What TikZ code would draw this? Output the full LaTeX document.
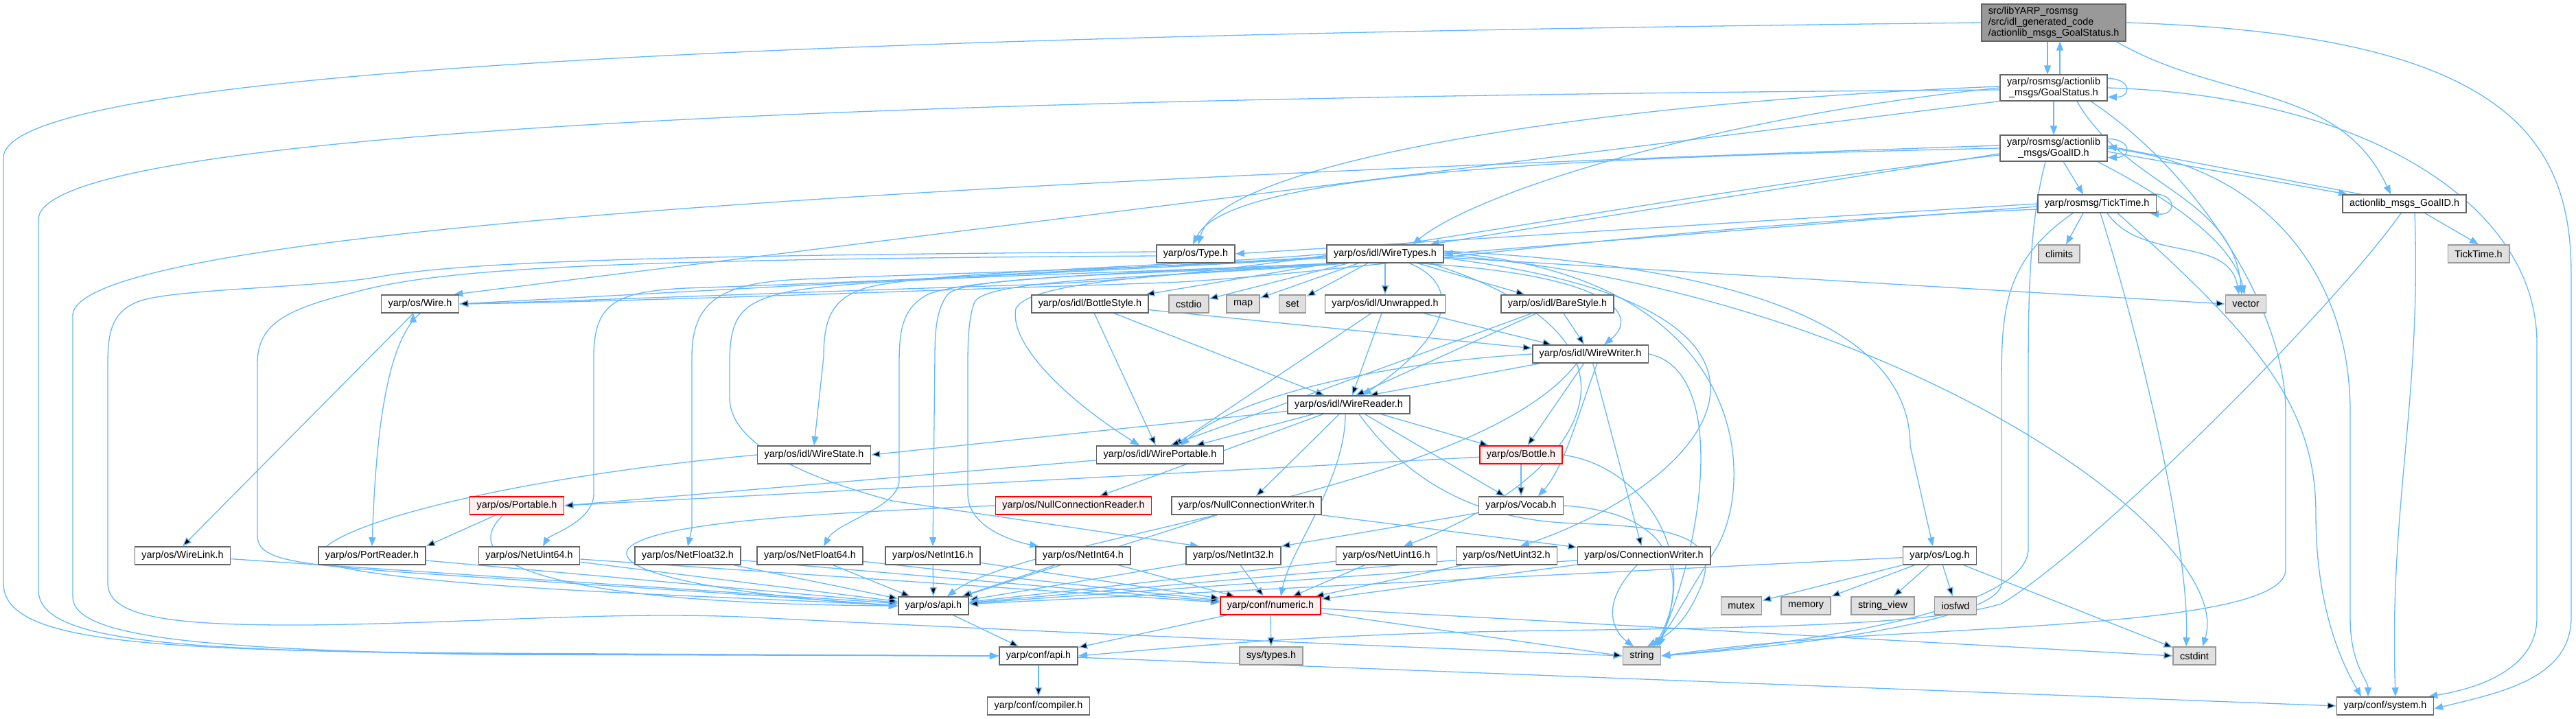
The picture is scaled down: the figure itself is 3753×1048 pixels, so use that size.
\documentclass[tikz,border=0pt]{standalone}
\usepackage{fontspec}
\setmainfont{Liberation Sans}
\usetikzlibrary{arrows.meta}

\definecolor{depblue}{HTML}{63B8FF}
\definecolor{hdrgray}{HTML}{666666}
\definecolor{sysgray}{HTML}{999999}
\definecolor{sysfill}{HTML}{E0E0E0}
\definecolor{rootfill}{HTML}{999999}
\definecolor{cutred}{HTML}{FF0000}
\definecolor{cutfill}{HTML}{FFF0F0}

\pgfdeclarelayer{wires}
\pgfsetlayers{wires,main}

\begin{document}
\begin{tikzpicture}[
    x=1pt, y=-1pt,
    font=\fontsize{14.4}{16}\selectfont,
    hdr/.style={draw=hdrgray, fill=white, line width=1.6pt,
                minimum height=26pt, inner xsep=10pt, inner ysep=4pt,
                align=center},
    syshdr/.style={hdr, draw=sysgray, fill=sysfill},
    cuthdr/.style={hdr, draw=cutred, fill=cutfill},
    roothdr/.style={hdr, fill=rootfill, align=left},
    dep/.style={draw=depblue, line width=1.3pt,
                -{Triangle[length=13pt,width=10pt]}},
]
\useasboundingbox (0,0) rectangle (3753,1048);

% headers
\node [roothdr] (root) at (2992,33)
      {src/libYARP\_rosmsg\\/src/idl\_generated\_code\\/actionlib\_msgs\_GoalStatus.h};
\node [hdr] (gs)  at (2992,128) {yarp/rosmsg/actionlib\\\_msgs/GoalStatus.h};
\node [hdr] (gid) at (2992,216) {yarp/rosmsg/actionlib\\\_msgs/GoalID.h};
\node [hdr] (tick) at (3055,297) {yarp/rosmsg/TickTime.h};
\node [hdr] (agid) at (3503,297) {actionlib\_msgs\_GoalID.h};
\node [syshdr] (climits) at (3000,370) {climits};
\node [syshdr] (ticksys) at (3611,370) {TickTime.h};
\node [syshdr] (vector) at (3272,443) {vector};

\node [hdr] (type)   at (1742,370) {yarp/os/Type.h};
\node [hdr] (wtypes) at (2018,370) {yarp/os/idl/WireTypes.h};
\node [hdr] (bstyle) at (1588,443) {yarp/os/idl/BottleStyle.h};
\node [syshdr] (cstdio) at (1732,443) {cstdio};
\node [syshdr] (map)    at (1811,443) {map};
\node [syshdr] (set)    at (1883,443) {set};
\node [hdr] (unwr)    at (2018,443) {yarp/os/idl/Unwrapped.h};
\node [hdr] (bare)    at (2269,443) {yarp/os/idl/BareStyle.h};
\node [hdr] (wwriter) at (2317,516) {yarp/os/idl/WireWriter.h};
\node [hdr] (wire)    at (612,443)  {yarp/os/Wire.h};
\node [hdr] (wreader) at (1965,590) {yarp/os/idl/WireReader.h};
\node [hdr] (wstate)  at (1186,663) {yarp/os/idl/WireState.h};
\node [hdr] (wport)   at (1690,663) {yarp/os/idl/WirePortable.h};
\node [cuthdr] (bottle)   at (2216,663) {yarp/os/Bottle.h};
\node [cuthdr] (portable) at (753,737)  {yarp/os/Portable.h};
\node [cuthdr] (nullr)    at (1564,737) {yarp/os/NullConnectionReader.h};
\node [hdr] (nullw) at (1816,737) {yarp/os/NullConnectionWriter.h};
\node [hdr] (vocab) at (2216,737) {yarp/os/Vocab.h};

\node [hdr] (wirelink)   at (266,810)  {yarp/os/WireLink.h};
\node [hdr] (portreader) at (542,810)  {yarp/os/PortReader.h};
\node [hdr] (nuint64)    at (771,810)  {yarp/os/NetUint64.h};
\node [hdr] (nfloat32)   at (1002,810) {yarp/os/NetFloat32.h};
\node [hdr] (nfloat64)   at (1180,810) {yarp/os/NetFloat64.h};
\node [hdr] (nint16)     at (1359,810) {yarp/os/NetInt16.h};
\node [hdr] (nint64)     at (1578,810) {yarp/os/NetInt64.h};
\node [hdr] (nint32)     at (1797,810) {yarp/os/NetInt32.h};
\node [hdr] (nuint16)    at (2020,810) {yarp/os/NetUint16.h};
\node [hdr] (nuint32)    at (2195,810) {yarp/os/NetUint32.h};
\node [hdr] (cwriter)    at (2395,810) {yarp/os/ConnectionWriter.h};
\node [hdr] (log)        at (2826,810) {yarp/os/Log.h};

\node [hdr] (osapi)      at (1360,883) {yarp/os/api.h};
\node [cuthdr] (numeric) at (1851,883) {yarp/conf/numeric.h};
\node [syshdr] (mutex)   at (2537,883) {mutex};
\node [syshdr] (memory)  at (2631,883) {memory};
\node [syshdr] (strview) at (2743,883) {string\_view};
\node [syshdr] (iosfwd)  at (2849,883) {iosfwd};
\node [hdr] (confapi)    at (1513,956) {yarp/conf/api.h};
\node [syshdr] (systypes) at (1852,956) {sys/types.h};
\node [syshdr] (string)  at (2392,956) {string};
\node [syshdr] (cstdint) at (3197,956) {cstdint};
\node [hdr] (compiler)   at (1513,1029) {yarp/conf/compiler.h};
\node [hdr] (system)     at (3475,1029) {yarp/conf/system.h};

\begin{pgfonlayer}{wires}
% generated file and the rosmsg headers
\draw [dep] ([xshift=-9pt]root.south) -- ([xshift=-9pt]gs.north);
\draw [dep] ([xshift=9pt]gs.north) -- ([xshift=9pt]root.south);
\draw [dep] ([xshift=-15pt]root.south east) to [out=-30,in=115] ([xshift=-20pt]agid.north);
\draw [dep] (root.east) .. controls (3650,50) and (3746,200) .. (3746,400)
      -- (3746,900) .. controls (3746,990) and (3640,1010) .. ([yshift=-4pt]system.east);
\draw [dep] (root.west) .. controls (1400,50) and (5,90) .. (5,230)
      -- (5,850) .. controls (5,935) and (200,948) .. (700,952) -- (confapi.west);

\draw [dep] ([yshift=-6pt]gs.north east) .. controls +(35,0) and +(35,0) .. ([yshift=6pt]gs.south east);
\draw [dep] (gs.south) -- (gid.north);
\draw [dep] ([yshift=2pt]gs.west) .. controls (2300,150) and (1775,240) .. ([xshift=4pt]type.north);
\draw [dep] (gs.west) .. controls (2500,170) and (2150,280) .. ([xshift=40pt]wtypes.north);
\draw [dep] (gs.south west) -- ([xshift=-8pt]wire.north east);
\draw [dep] ([yshift=-3pt]gs.west) .. controls (1500,140) and (56,180) .. (56,320)
      -- (56,860) .. controls (56,935) and (250,948) .. (700,953) -- (confapi.west);
\draw [dep] ([xshift=-45pt]gs.south east) to [out=-60,in=95] ([xshift=-6pt]vector.north);
\draw [dep] ([xshift=-25pt]gs.south east) .. controls (3200,250) and (3330,450) .. (3330,600)
      -- (3330,830) .. controls (3330,900) and (3000,910) .. (2700,928) .. controls (2550,938) and (2480,948) .. (string.east);
\draw [dep] (gs.east) .. controls (3450,140) and (3696,300) .. (3696,500)
      -- (3696,900) .. controls (3696,980) and (3600,1005) .. ([xshift=-8pt]system.north east);

\draw [dep] ([yshift=-6pt]gid.north east) .. controls +(35,0) and +(35,0) .. ([yshift=6pt]gid.south east);
\draw [dep] ([xshift=14pt]gid.south) -- ([xshift=-20pt]tick.north);
\draw [dep] ([yshift=-5pt]gid.east) -- ([xshift=8pt]agid.north west);
\draw [dep] ([xshift=28pt]agid.north west) -- ([yshift=3pt]gid.east);
\draw [dep] (gid.west) .. controls (2300,230) and (1790,250) .. ([xshift=-4pt]type.north);
\draw [dep] ([yshift=-8pt]gid.west) -- ([xshift=-20pt]wtypes.north east);
\draw [dep] ([yshift=-10pt]gid.west) .. controls (2300,300) and (1900,400) .. (1500,415) .. controls (1100,428) and (800,440) .. (wire.east);
\draw [dep] ([yshift=4pt]gid.west) .. controls (1500,260) and (106,330) .. (106,460)
      -- (106,870) .. controls (106,930) and (300,946) .. (700,954) -- (confapi.west);
\draw [dep] ([xshift=-15pt]gid.south east) .. controls (3180,300) and (3255,360) .. ([xshift=-2pt]vector.north);
\draw [dep] ([xshift=-12pt]gid.south) .. controls (2955,330) and (2955,450) .. (2955,560)
      -- (2955,800) .. controls (2955,880) and (2700,930) .. (string.east);
\draw [dep] (gid.east) .. controls (3300,240) and (3424,400) .. (3424,600)
      -- (3424,900) .. controls (3424,970) and (3450,990) .. ([xshift=-25pt]system.north);

\draw [dep] ([xshift=-5pt]agid.south) .. controls (3400,450) and (3050,800) .. (2916,880)
      .. controls (2800,915) and (2500,915) .. (2200,920) .. controls (1900,925) and (1700,945) .. (confapi.east);
\draw [dep] ([xshift=30pt]agid.south) -- (ticksys.north);
\draw [dep] ([xshift=15pt]agid.south) to [out=-88,in=92] ([xshift=15pt]system.north);

\draw [dep] ([xshift=-10pt]tick.north east) .. controls +(40,-4) and +(40,4) .. ([xshift=-10pt]tick.south east);
\draw [dep] ([xshift=-20pt]tick.south) -- ([xshift=10pt]climits.north);
\draw [dep] (tick.west) -- (type.east);
\draw [dep] ([yshift=-4pt]tick.west) -- (wtypes.east);
\draw [dep] ([yshift=-8pt]tick.west) .. controls (2400,330) and (1950,400) .. (1700,412) .. controls (1300,425) and (900,440) .. (wire.east);
\draw [dep] ([xshift=15pt]tick.south) to [out=-55,in=100] ([xshift=-10pt]vector.north);
\draw [dep] ([xshift=5pt]tick.south) .. controls (3120,500) and (3190,800) .. ([xshift=-12pt]cstdint.north);
\draw [dep] ([xshift=-35pt]tick.south) .. controls (2920,380) and (2916,450) .. (2916,560)
      -- (2916,850) .. controls (2916,895) and (2700,935) .. (string.east);
\draw [dep] ([xshift=30pt]tick.south) .. controls (3300,500) and (3374,600) .. (3374,750)
      .. controls (3374,900) and (3420,980) .. ([xshift=-35pt]system.north);

% yarp/os/Type.h
\draw [dep] ([yshift=-3pt]type.west) .. controls (900,378) and (650,390) .. (520,425)
      .. controls (420,450) and (375,470) .. (375,530) -- (375,780)
      .. controls (375,815) and (420,822) .. (600,835) .. controls (900,855) and (1150,870) .. (osapi.west);
\draw [dep] ([yshift=3pt]type.west) .. controls (1000,372) and (700,380) .. (560,402)
      .. controls (470,420) and (250,420) .. (200,440) .. controls (165,455) and (157,480) .. (157,530)
      -- (157,850) .. controls (157,900) and (250,912) .. (450,911) .. controls (700,908) and (900,890) .. (1100,900)
      .. controls (1600,925) and (2100,945) .. (string.west);

% yarp/os/idl/WireTypes.h
\path [dep] (wtypes) edge (bstyle) edge (cstdio) edge (map) edge (set)
                     edge (unwr) edge (bare) edge (wire.east) edge (vector.west);
\draw [dep] ([xshift=-40pt]wtypes.south east) .. controls (2350,400) and (2390,460) .. ([xshift=20pt]wwriter.north);
\draw [dep] ([xshift=-50pt]wtypes.south east) .. controls (2140,420) and (2100,500) .. ([xshift=20pt]wreader.north);
\draw [dep] ([xshift=20pt]wtypes.south west) .. controls (1700,400) and (1500,410) .. (1480,450)
      .. controls (1470,500) and (1550,580) .. ([xshift=-30pt]wport.north);
\draw [dep] (wtypes.west) .. controls (1700,390) and (1350,395) .. (1260,420)
      .. controls (1215,435) and (1200,460) .. (1200,520) -- (wstate.north);
\draw [dep] ([yshift=-4pt]wtypes.west) .. controls (1700,392) and (1300,400) .. (1150,408)
      .. controls (1050,415) and (1008,440) .. (1008,520) -- (1008,770) -- (nfloat32.north);
\draw [dep] ([yshift=-6pt]wtypes.west) .. controls (1700,390) and (1300,410) .. (1000,420)
      .. controls (900,425) and (865,440) .. (865,520) -- (865,720) .. controls (865,760) and (800,780) .. ([xshift=20pt]nuint64.north);
\draw [dep] ([xshift=10pt]wtypes.south west) .. controls (1600,400) and (1250,405) .. (1150,425)
      .. controls (1080,440) and (1063,460) .. (1063,530) -- (1063,580)
      .. controls (1063,640) and (1150,690) .. (1300,730) -- ([xshift=-50pt]nint32.north);
\draw [dep] ([xshift=15pt]wtypes.south west) .. controls (1700,395) and (1400,405) .. (1350,430)
      .. controls (1315,450) and (1310,480) .. (1310,530) -- (1310,700)
      .. controls (1310,740) and (1220,760) .. ([xshift=20pt]nfloat64.north);
\draw [dep] ([xshift=25pt]wtypes.south west) .. controls (1700,400) and (1400,400) .. (1380,430)
      .. controls (1365,450) and (1362,480) .. (1362,520) -- (nint16.north);
\draw [dep] ([xshift=30pt]wtypes.south west) .. controls (1700,405) and (1440,405) .. (1420,440)
      .. controls (1412,460) and (1410,490) .. (1410,530) -- (1410,720)
      .. controls (1410,770) and (1480,790) .. ([xshift=5pt]nint64.north west);
\draw [dep] ([xshift=-20pt]wtypes.south east) .. controls (2450,500) and (2300,700) .. ([xshift=25pt]nuint16.north);
\draw [dep] ([yshift=-6pt]wtypes.east) .. controls (2700,450) and (2500,700) .. ([xshift=20pt]nuint32.north);
\draw [dep] ([yshift=4pt]wtypes.east) .. controls (2600,390) and (2783,500) .. (2783,650) -- ([xshift=-10pt]log.north);
\draw [dep] ([yshift=2pt]wtypes.east) .. controls (2550,400) and (2560,700) .. (2500,800)
      .. controls (2450,880) and (2430,920) .. ([xshift=15pt]string.north);
\draw [dep] ([yshift=-2pt]wtypes.east) .. controls (2750,420) and (3260,780) .. ([xshift=12pt]cstdint.north);

% idl styles
\path [dep] (bstyle) edge (wwriter) edge (wreader) edge (wport);
\path [dep] (unwr) edge (wwriter) edge (wreader) edge (wport);
\path [dep] (bare) edge (wwriter) edge ([xshift=10pt]wreader.north) edge ([xshift=15pt]wport.north);

% yarp/os/idl/WireWriter.h
\path [dep] (wwriter) edge ([xshift=30pt]wreader.north) edge (bottle) edge (cwriter);
\draw [dep] (wwriter.west) .. controls (2000,530) and (1800,580) .. ([xshift=30pt]wport.north);
\draw [dep] ([xshift=10pt]wwriter.south) .. controls (2300,600) and (2280,680) .. ([xshift=25pt]vocab.north);
\draw [dep] (wwriter.east) .. controls (2520,540) and (2480,800) .. ([xshift=22pt]string.north);
\draw [dep] ([xshift=-20pt]wwriter.south) .. controls (2150,720) and (1500,780) .. ([xshift=20pt]osapi.north);

% yarp/os/idl/WireReader.h
\path [dep] (wreader) edge (wstate.east) edge (wport) edge (nullr) edge (nullw)
                      edge (bottle) edge (vocab);
\draw [dep] ([xshift=-5pt]wreader.south) .. controls (1960,700) and (1880,800) .. ([xshift=15pt]numeric.north);
\draw [dep] ([xshift=15pt]wreader.south) .. controls (2050,700) and (2150,760) .. (2300,763)
      .. controls (2460,768) and (2500,790) .. (2480,850) .. controls (2460,900) and (2440,920) .. ([xshift=8pt]string.north);

% remaining yarp/os headers
\draw [dep] (wstate.west) .. controls (700,700) and (430,780) .. (470,820)
      .. controls (600,860) and (1100,870) .. (osapi.west);
\path [dep] (wport) edge (portable.east);
\path [dep] (bottle) edge (portable.east) edge (vocab);
\draw [dep] (bottle.east) .. controls (2400,680) and (2480,820) .. ([xshift=18pt]string.north);
\path [dep] (portable) edge (portreader.north east);
\draw [dep] ([xshift=-20pt]portable.south) .. controls (660,820) and (800,880) .. (osapi.west);
\path [dep] ([xshift=-10pt]wire.south) edge (wirelink.north);
\draw [dep] (wire.south) .. controls (560,500) and (547,650) .. (portreader.north);
\draw [dep] (nullr.west) .. controls (1200,748) and (950,760) .. (915,800)
      .. controls (890,840) and (1100,870) .. (osapi.west);
\path [dep] (nullw) edge (osapi) edge (cwriter);
\path [dep] (vocab) edge (nint32.north east);
\draw [dep] (vocab.east) .. controls (2480,750) and (2440,880) .. ([xshift=25pt]string.north);
\path [dep] (wirelink) edge (osapi) (portreader) edge (osapi);
\path [dep] (nuint64) edge (osapi) edge (numeric);
\path [dep] (nfloat32) edge (osapi) edge (numeric);
\path [dep] (nfloat64) edge (osapi) edge (numeric);
\path [dep] (nint16) edge (osapi) edge (numeric);
\path [dep] (nint64) edge (osapi) edge (numeric);
\path [dep] (nint32) edge (osapi) edge (numeric);
\path [dep] (nuint16) edge (osapi) edge (numeric);
\path [dep] (nuint32) edge (osapi) edge (numeric);
\path [dep] (cwriter) edge (osapi) edge (numeric);
\draw [dep] ([xshift=-10pt]cwriter.south) .. controls (2330,880) and (2350,920) .. ([xshift=-12pt]string.north);
\path [dep] (log) edge (osapi) edge (mutex) edge (memory) edge (strview)
                  edge (iosfwd) edge (cstdint);

% yarp/conf
\path [dep] (osapi) edge (confapi);
\path [dep] (numeric) edge (confapi) edge (systypes) edge (string.west) edge (cstdint.west);
\path [dep] (confapi) edge (compiler) edge (system.west);
\end{pgfonlayer}
\end{tikzpicture}
\end{document}
